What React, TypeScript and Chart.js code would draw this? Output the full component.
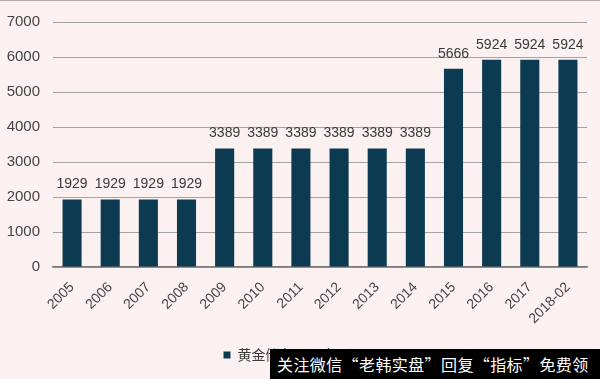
import React, { useEffect, useRef } from "react";
import { Chart, registerables } from "chart.js";

Chart.register(...registerables);

const categories = ["2005", "2006", "2007", "2008", "2009", "2010", "2011", "2012", "2013", "2014", "2015", "2016", "2017", "2018-02"];
const goldReserves = [1929, 1929, 1929, 1929, 3389, 3389, 3389, 3389, 3389, 3389, 5666, 5924, 5924, 5924];
const seriesName = "黄金储备（万盎司）";
const watermark = "关注微信“老韩实盘”回复“指标”免费领";

const BG = "#fbf1f0";
const BAR = "#0c3a50";

const valueLabels = {
  id: "valueLabels",
  afterDatasetsDraw(chart: any) {
    const ctx = chart.ctx;
    const meta = chart.getDatasetMeta(0);
    ctx.save();
    ctx.font = "14px 'Liberation Sans', Arial, sans-serif";
    ctx.fillStyle = "#3a3a3a";
    ctx.textAlign = "center";
    ctx.textBaseline = "bottom";
    meta.data.forEach((bar: any, i: number) => {
      ctx.fillText(String(goldReserves[i]), bar.x, bar.y - 8);
    });
    ctx.restore();
  },
};

export default function App() {
  const ref = useRef<HTMLCanvasElement>(null);
  useEffect(() => {
    document.body.style.margin = "0";
    const chart = new Chart(ref.current!, {
      type: "bar",
      data: {
        labels: categories,
        datasets: [
          {
            label: seriesName,
            data: goldReserves,
            backgroundColor: BAR,
            barPercentage: 0.5,
            categoryPercentage: 1,
          },
        ],
      },
      options: {
        animation: false,
        responsive: false,
        maintainAspectRatio: false,
        layout: { padding: { left: 0, right: 13, top: 19, bottom: 7 } },
        plugins: {
          tooltip: { enabled: false },
          legend: {
            position: "bottom",
            labels: {
              boxWidth: 7,
              boxHeight: 7,
              padding: 10,
              color: "#3a3a3a",
              font: { size: 14, family: "'Noto Sans CJK SC', sans-serif" },
            },
          },
        },
        scales: {
          x: {
            grid: { display: false, drawTicks: false },
            border: { display: true, color: "#7a7a7a", width: 1.5 },
            ticks: {
              minRotation: 45,
              maxRotation: 45,
              padding: 12,
              color: "#444",
              font: { size: 14, family: "'Liberation Sans', Arial, sans-serif" },
            },
            afterFit: (s: any) => {
              s.height = 71;
            },
          },
          y: {
            min: 0,
            max: 7000,
            grid: { color: "#a3a3a3", lineWidth: 1, drawTicks: false },
            border: { display: false },
            ticks: {
              stepSize: 1000,
              padding: 13,
              color: "#444",
              font: { size: 15, family: "'Liberation Sans', Arial, sans-serif" },
              callback: (v: any) => String(v),
            },
            afterFit: (s: any) => {
              s.width = 53;
            },
          },
        },
      },
      plugins: [valueLabels],
    });
    return () => chart.destroy();
  }, []);

  return (
    <div style={{ position: "fixed", left: 0, top: 0, width: 600, height: 379, background: BG, overflow: "hidden" }}>
      <div style={{ position: "absolute", left: 0, top: 0, width: 600, height: 1, background: "#b0a8a8" }} />
      <canvas ref={ref} width={600} height={379} style={{ display: "block" }} />
      <div
        style={{
          position: "absolute",
          left: 270,
          top: 349,
          width: 330,
          height: 30,
          background: "#000",
          color: "#fff",
          fontFamily: "'Noto Sans CJK SC', sans-serif",
          fontSize: 16,
          letterSpacing: "0.4px",
          lineHeight: "30px",
          paddingLeft: 7,
          whiteSpace: "nowrap",
          overflow: "hidden",
          boxSizing: "border-box",
        }}
      >
        {watermark}
      </div>
    </div>
  );
}
